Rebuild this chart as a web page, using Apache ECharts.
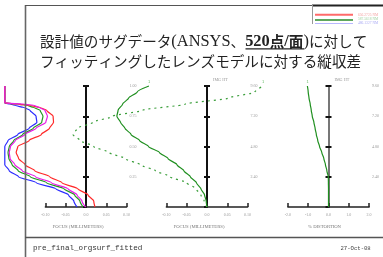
<!DOCTYPE html>
<html>
<head>
<meta charset="utf-8">
<script src="https://cdn.jsdelivr.net/npm/echarts@6/dist/echarts.min.js"></script>
<style>
  html, body { margin: 0; padding: 0; background: #fff; }
  #chart { width: 383px; height: 257px; }
</style>
</head>
<body>
<div id="chart"></div>
<script>
// relative pupil height (longitudinal aberration plot)
const pupil = [0, 0.05, 0.1, 0.15, 0.2, 0.25, 0.3, 0.35, 0.4, 0.45, 0.5, 0.55, 0.6, 0.65, 0.7, 0.75, 0.8, 0.82, 0.84, 0.85, 0.86, 0.9, 0.95, 1.0]
// focus shift (mm) per wavelength
const blueFocus = [-0.022, -0.030, -0.043, -0.074, -0.122, -0.166, -0.189, -0.200, -0.200, -0.200, -0.200, -0.192, -0.168, -0.140, -0.121, -0.123, -0.138, -0.151, -0.175, -0.186, -0.200, -0.200, -0.200, -0.200]
const greenFocus = [-0.007, -0.015, -0.028, -0.054, -0.097, -0.137, -0.167, -0.182, -0.190, -0.192, -0.189, -0.178, -0.156, -0.130, -0.109, -0.106, -0.113, -0.127, -0.145, -0.165, -0.200, -0.200, -0.200, -0.200]
const redFocus = [0.022, 0.019, 0.005, -0.020, -0.059, -0.089, -0.126, -0.150, -0.166, -0.172, -0.168, -0.140, -0.110, -0.090, -0.080, -0.081, -0.097, -0.111, -0.138, -0.167, -0.200, -0.200, -0.200, -0.200]
const magentaFocus = [-0.001, -0.010, -0.022, -0.044, -0.085, -0.124, -0.157, -0.175, -0.187, -0.189, -0.186, -0.174, -0.151, -0.123, -0.099, -0.095, -0.101, -0.114, -0.128, -0.151, -0.200, -0.200, -0.200, -0.200]

// image height (field curvature / distortion)
const imgHt = [0, 0.48, 0.96, 1.44, 1.92, 2.40, 2.88, 3.36, 3.84, 4.32, 4.80, 5.28, 5.76, 6.24, 6.72, 7.20, 7.68, 8.16, 8.64, 9.12, 9.60]
const fieldSolid = [0, -0.002, -0.006, -0.015, -0.026, -0.041, -0.057, -0.074, -0.096, -0.117, -0.144, -0.166, -0.187, -0.202, -0.213, -0.222, -0.219, -0.208, -0.193, -0.172, -0.143]
const fieldDotted = [0, -0.007, -0.015, -0.027, -0.050, -0.091, -0.127, -0.165, -0.202, -0.241, -0.279, -0.313, -0.330, -0.320, -0.281, -0.232, -0.158, -0.054, 0.052, 0.118, 0.138]
const distortion = [0, 0, 0, 0, -0.005, -0.01, -0.08, -0.15, -0.23, -0.33, -0.44, -0.53, -0.60, -0.66, -0.72, -0.80, -0.85, -0.90, -0.96, -1.00, -1.04]

// tick labels
const focusLabels = ['-0.10', '-0.05', '0.0', '0.05', '0.10']
const distLabels = ['-2.0', '-1.0', '0.0', '1.0', '2.0']
const pupilLabels = ['', '0.25', '0.50', '0.75', '1.00']
const imgHtLabels = ['', '2.40', '4.80', '7.20', '9.60']
const wavelengths = ['656.2725 NM', '587.5618 NM', '486.1327 NM']

const chart = echarts.init(document.getElementById('chart'), null, { renderer: 'canvas' })

const tinyFont = 'Liberation Serif'
const cjkFont = 'Noto Sans CJK JP'
const pxPerMm = 406 // 0.2 mm over 81.2 px

// grids 0-2 carry the visible axes, grids 3-4 are wider copies with the same scale
// so that curves running past the drawn axes are not cut off
const grids = [
  { left: 45.4, top: 86, width: 81.2, height: 121 },
  { left: 166.4, top: 86, width: 81.2, height: 121 },
  { left: 287.9, top: 86, width: 81.2, height: 121 },
  { left: 86 - 0.21 * pxPerMm, top: 86, width: 0.26 * pxPerMm, height: 121 },
  { left: 207 - 0.35 * pxPerMm, top: 86, width: 0.5 * pxPerMm, height: 121 },
]

function makeXAxis(gridIndex, lim, step, labels, name, shift) {
  return {
    type: 'value', gridIndex, min: -lim, max: lim, interval: step,
    name, nameLocation: 'middle', nameGap: 17,
    nameTextStyle: { fontSize: 4.7, color: '#777', fontFamily: tinyFont, padding: [0, shift, 0, 0] },
    axisLine: { onZero: false, lineStyle: { color: '#222', width: 1.5 } },
    axisTick: { inside: true, length: 4, lineStyle: { color: '#222', width: 1.5 } },
    axisLabel: { fontSize: 4, color: '#999', margin: 6, fontFamily: tinyFont,
      formatter: (v, i) => labels[i] },
    splitLine: { show: false },
  }
}

function makeYAxes(gridIndex, max, step, labels, name, color) {
  const base = {
    type: 'value', gridIndex, min: 0, max, interval: step,
    splitLine: { show: false },
  }
  return [
    Object.assign({}, base, {
      position: 'right',
      name, nameLocation: 'end', nameGap: 4,
      nameTextStyle: { fontSize: 4.2, color: '#999', fontFamily: tinyFont, align: 'left', padding: [0, 0, 0, 6] },
      axisLine: { onZero: true, onZeroAxisIndex: gridIndex, lineStyle: { color, width: 2 } },
      axisTick: { length: 3, lineStyle: { color: '#111', width: 2 } },
      axisLabel: { fontSize: 4, color: '#999', margin: 3, fontFamily: tinyFont, showMinLabel: false,
        formatter: (v, i) => labels[i] },
    }),
    Object.assign({}, base, {
      position: 'left',
      axisLine: { onZero: true, onZeroAxisIndex: gridIndex, lineStyle: { color, width: 2 } },
      axisTick: { length: 3, lineStyle: { color: '#111', width: 2 } },
      axisLabel: { show: false },
    }),
  ]
}

function hiddenX(gridIndex, min, max) {
  return { type: 'value', gridIndex, min, max, show: false, splitLine: { show: false } }
}
function hiddenY(gridIndex, max) {
  return { type: 'value', gridIndex, min: 0, max, show: false, splitLine: { show: false } }
}

function curve(name, xs, ys, color, xi, yi, extra) {
  return Object.assign({
    name, type: 'line', xAxisIndex: xi, yAxisIndex: yi,
    data: ys.map((y, i) => [xs[i], y]),
    showSymbol: false, clip: false, smooth: 0.25, smoothMonotone: 'y',
    lineStyle: { color, width: 1.2 },
    emphasis: { disabled: true },
    z: 3,
  }, extra || {})
}

const endMark = { show: true, formatter: '1', fontSize: 4, color: '#6b6', distance: 1, offset: [-2, -4] }

function seg(size, weight, family) {
  return { fontSize: size, lineHeight: 19.5, color: '#222', fontWeight: weight, fontFamily: family }
}

const option = {
  backgroundColor: '#fff',
  animation: false,
  title: {
    left: 40, top: 32, padding: 0,
    text: '{j|設計値のサグデータ}{l|(ANSYS}{j|、}{lb|520}{jb|点}{lb|/}{jb|面}{l|)}{j|に対して}\n' +
      '{j|フィッティングしたレンズモデルに対する縦収差}',
    textStyle: {
      fontWeight: 'normal',
      rich: {
        j: seg(14.6, 'normal', cjkFont),
        jb: seg(14.6, 'bold', cjkFont),
        l: seg(16.4, 'normal', tinyFont),
        lb: seg(16.4, 'bold', tinyFont),
      },
    },
  },
  grid: grids,
  xAxis: [
    makeXAxis(0, 0.1, 0.05, focusLabels, 'FOCUS (MILLIMETERS)', 16),
    makeXAxis(1, 0.1, 0.05, focusLabels, 'FOCUS (MILLIMETERS)', 16),
    makeXAxis(2, 2, 1, distLabels, '% DISTORTION', 8),
    hiddenX(3, -0.21, 0.05),
    hiddenX(4, -0.35, 0.15),
  ],
  yAxis: [
    ...makeYAxes(0, 1, 0.25, pupilLabels, '', '#111'),
    ...makeYAxes(1, 9.6, 2.4, imgHtLabels, 'IMG HT', '#111'),
    ...makeYAxes(2, 9.6, 2.4, imgHtLabels, 'IMG HT', '#777'),
    hiddenY(3, 1),
    hiddenY(4, 9.6),
  ],
  series: [
    curve('486', blueFocus, pupil, '#2b2bff', 3, 6),
    curve('588', greenFocus, pupil, '#239a23', 3, 6),
    curve('656', redFocus, pupil, '#ff2a2a', 3, 6),
    curve('546', magentaFocus, pupil, '#e81ee8', 3, 6),
    curve('S', fieldSolid, imgHt, '#1f8f1f', 4, 7, { endLabel: endMark }),
    curve('T', fieldDotted, imgHt, '#3a9e3a', 4, 7, {
      lineStyle: { color: '#3a9e3a', width: 1.2, type: [2, 4] }, endLabel: endMark }),
    curve('D', distortion, imgHt, '#1f8f1f', 2, 4, { endLabel: endMark }),
  ],
  graphic: [
    // frame
    { type: 'line', z: 50, shape: { x1: 25.5, y1: 5, x2: 25.5, y2: 257 }, style: { stroke: '#666', lineWidth: 1.6 } },
    { type: 'line', z: 50, shape: { x1: 25, y1: 5.5, x2: 383, y2: 5.5 }, style: { stroke: '#555', lineWidth: 1.2 } },
    { type: 'line', z: 50, shape: { x1: 312, y1: 5.5, x2: 383, y2: 5.5 }, style: { stroke: '#222', lineWidth: 2 } },
    { type: 'line', z: 50, shape: { x1: 25, y1: 237.5, x2: 383, y2: 237.5 }, style: { stroke: '#555', lineWidth: 1.5 } },
    // wavelength box
    { type: 'line', z: 50, shape: { x1: 312.5, y1: 5, x2: 312.5, y2: 24 }, style: { stroke: '#999', lineWidth: 1 } },
    { type: 'line', z: 50, shape: { x1: 315, y1: 14.7, x2: 353, y2: 14.7 }, style: { stroke: '#ff6a6a', lineWidth: 2 } },
    { type: 'line', z: 50, shape: { x1: 315, y1: 20, x2: 353, y2: 20 }, style: { stroke: '#2a8a2a', lineWidth: 1.5 } },
    { type: 'line', z: 50, shape: { x1: 315, y1: 23.5, x2: 353, y2: 23.5 }, style: { stroke: '#b8b8ff', lineWidth: 1 } },
    { type: 'text', z: 50, x: 358, y: 14.7, style: { text: wavelengths[0], fontSize: 3.6, fill: '#f3a3a3', fontFamily: tinyFont, verticalAlign: 'middle' } },
    { type: 'text', z: 50, x: 358, y: 19.5, style: { text: wavelengths[1], fontSize: 3.6, fill: '#9fcf9f', fontFamily: tinyFont, verticalAlign: 'middle' } },
    { type: 'text', z: 50, x: 358, y: 23.5, style: { text: wavelengths[2], fontSize: 3.6, fill: '#a9a9f3', fontFamily: tinyFont, verticalAlign: 'middle' } },
    // underline of the bold part of the title
    { type: 'line', z: 50, shape: { x1: 245.5, y1: 48.8, x2: 304, y2: 48.8 }, style: { stroke: '#222', lineWidth: 1.2 } },
    // footer
    { type: 'text', z: 50, x: 33, y: 248, style: { text: 'pre_final_orgsurf_fitted', fontSize: 7.6, fill: '#333', fontFamily: 'Liberation Mono', verticalAlign: 'middle' } },
    { type: 'text', z: 50, x: 340.5, y: 248.5, style: { text: '27-Oct-08', fontSize: 5.6, fill: '#444', fontFamily: 'Liberation Mono', verticalAlign: 'middle' } },
  ],
}

chart.setOption(option)
window.addEventListener('resize', () => chart.resize())
</script>
</body>
</html>
